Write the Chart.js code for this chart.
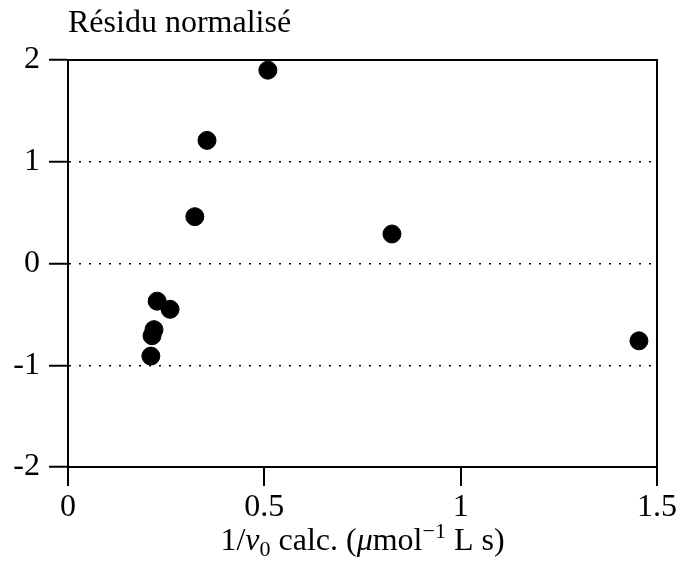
<!DOCTYPE html>
<html>
<head>
<meta charset="utf-8">
<script src="https://cdn.jsdelivr.net/npm/chart.js@4/dist/chart.umd.min.js"></script>
<style>
  html, body { margin: 0; padding: 0; background: #fff; }
  #wrap { width: 683px; height: 582px; }
</style>
</head>
<body>
<div id="wrap"><canvas id="graphic" width="683" height="582"></canvas></div>
<script>
// données
var invV0 = [0.509, 0.354, 0.323, 0.825, 1.454, 0.227, 0.260, 0.219, 0.214, 0.211];
var residus = [1.90, 1.21, 0.46, 0.29, -0.76, -0.37, -0.45, -0.65, -0.71, -0.91];
var xTicks = [0, 0.5, 1, 1.5];
var yTicks = [-2, -1, 0, 1, 2];

var police = '"Liberation Serif", "DejaVu Serif", serif';

var points = invV0.map(function (x, i) { return { x: x, y: residus[i] }; });

// cadre haut/droite + titres
var cadre = {
  id: 'cadre',
  afterDraw: function (chart) {
    var ctx = chart.ctx, a = chart.chartArea;
    ctx.save();
    ctx.strokeStyle = '#000';
    ctx.lineWidth = 2;
    ctx.beginPath();
    ctx.moveTo(a.left - 1, a.top);
    ctx.lineTo(a.right, a.top);
    ctx.lineTo(a.right, a.bottom + 1);
    ctx.stroke();

    ctx.fillStyle = '#000';
    ctx.textBaseline = 'alphabetic';
    ctx.font = '32px ' + police;
    ctx.fillText('Résidu normalisé', a.left, 32);

    // titre de l'axe x, en morceaux
    var parts = [
      { t: '1/', f: '32px ' + police, dy: 0 },
      { t: 'v', f: 'italic 32px ' + police, dy: 0 },
      { t: '0', f: '22px ' + police, dy: 6 },
      { t: ' calc. (', f: '32px ' + police, dy: 0 },
      { t: 'μ', f: 'italic 32px ' + police, dy: 0 },
      { t: 'mol', f: '32px ' + police, dy: 0 },
      { t: '−1', f: '22px ' + police, dy: -12 },
      { t: ' L s)', f: '32px ' + police, dy: 0 }
    ];
    var w = 0;
    parts.forEach(function (p) { ctx.font = p.f; p.w = ctx.measureText(p.t).width; w += p.w; });
    var x = (a.left + a.right) / 2 - w / 2, y = 550;
    parts.forEach(function (p) { ctx.font = p.f; ctx.fillText(p.t, x, y + p.dy); x += p.w; });
    ctx.restore();
  }
};

var ctx = document.getElementById('graphic').getContext('2d');

var monGraphique = new Chart(ctx, {
  type: 'scatter',
  data: {
    datasets: [{
      data: points,
      backgroundColor: '#000',
      borderColor: '#000',
      pointRadius: 9,
      pointHoverRadius: 9
    }]
  },
  options: {
    responsive: false,
    animation: false,
    layout: { padding: { left: 0, right: 26, top: 60, bottom: 0 } },
    plugins: { legend: { display: false }, tooltip: { enabled: false } },
    scales: {
      x: {
        type: 'linear',
        min: 0, max: 1.5,
        afterBuildTicks: function (s) { s.ticks = xTicks.map(function (v) { return { value: v }; }); },
        afterFit: function (s) { s.height = 115; },
        border: { display: true, color: '#000', width: 2 },
        grid: { drawOnChartArea: false, color: '#000', tickColor: '#000', tickLength: 19, lineWidth: 2 },
        ticks: {
          color: '#000', padding: 2,
          font: { family: police, size: 32 },
          callback: function (v) { return String(v); }
        }
      },
      y: {
        type: 'linear',
        min: -2, max: 2,
        afterBuildTicks: function (s) { s.ticks = yTicks.map(function (v) { return { value: v }; }); },
        afterFit: function (s) { s.width = 68; },
        border: { display: true, color: '#000', width: 2, dash: [2, 8] },
        grid: {
          color: function (c) { return Math.abs(c.tick.value) === 2 ? 'rgba(0,0,0,0)' : '#000'; },
          lineWidth: 1.5,
          tickColor: '#000', tickLength: 19, tickWidth: 2, tickBorderDash: []
        },
        ticks: {
          color: '#000', padding: 9,
          font: { family: police, size: 32 },
          callback: function (v) { return String(v); }
        }
      }
    }
  },
  plugins: [cadre]
});
</script>
</body>
</html>
